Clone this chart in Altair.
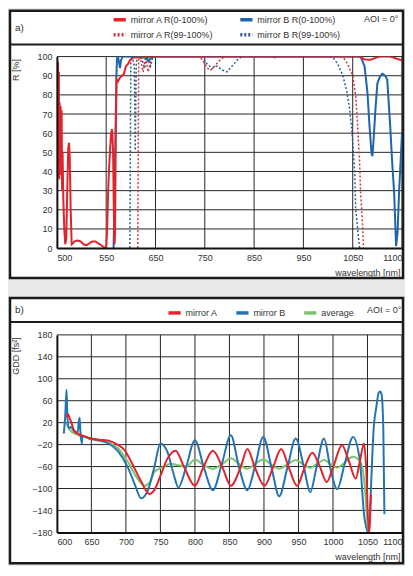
import altair as alt
import pandas as pd

FONT = "Liberation Sans"
TXT = "#333333"
GRID = "#262626"

# ---------------- panel a : reflectance ----------------
A_SERIES = ["mirror A R(0-100%)", "mirror B R(0-100%)",
            "mirror A R(99-100%)", "mirror B R(99-100%)"]
A_COLORS = ["#e2232b", "#1f64a8", "#d8343c", "#2f5d8e"]
A_DASH = [[1, 0], [1, 0], [2, 2], [2, 2]]
A_X_TICKS = [500, 550, 650, 750, 850, 950, 1050, 1100]
A_X_BREAKS = [500, 550, 1050, 1100]
A_X_GRID = [550, 650, 750, 850, 950, 1050, 1100]
A_Y_TICKS = [0, 10, 20, 30, 40, 50, 60, 70, 80, 90, 100]
A_Y_GRID = [10, 20, 30, 40, 50, 60, 70, 80, 90, 100]

A_R_SOLID = [(500.3, 98), (500.8, 40), (501.2, 97), (501.6, 37), (502.0, 92), (502.4, 36),
             (502.8, 76), (503.3, 40), (503.8, 74), (504.3, 38), (504.8, 72), (505.3, 30),
             (505.8, 50), (506.5, 26), (507.5, 10), (508.5, 2), (509.5, 5), (510.5, 30),
             (511.5, 52), (512.3, 55), (513, 48), (514, 20), (515, 2), (516, 2.5), (518, 3.5),
             (521, 4), (524, 3.5), (527, 2), (530, 1.5), (533, 2.5), (536, 3.5), (539, 3.5),
             (542, 2.5), (545, 1.5), (548, 0.3), (550, 0), (552, 10), (554, 30), (556, 42),
             (558, 52), (560, 60), (562, 62), (564, 50), (566, 10), (567, 2), (568, 8),
             (569.5, 60), (571, 88), (574, 87), (578, 89), (582, 90), (586, 91), (590, 95),
             (594, 96), (598, 98), (605, 99.5), (650, 100), (750, 100), (850, 100), (950, 100),
             (1050, 100), (1057, 100), (1062, 98.5), (1068, 98.3), (1074, 99.5), (1077, 100),
             (1088, 100), (1094, 99), (1100, 98)]

B_R_SOLID = [(565, 0), (566.5, 20), (568, 45), (569.5, 70), (571, 92), (572, 99), (574, 100),
             (576, 97), (578, 94), (580, 98), (583, 100), (600, 100), (630, 99.5), (636, 97.5),
             (641, 99.5), (650, 100), (800, 100), (1000, 100), (1058, 100), (1062, 95),
             (1065, 81), (1067, 64), (1069, 50), (1070, 48), (1071, 55), (1073, 72), (1075, 86),
             (1078, 90), (1080, 91), (1083, 90), (1085, 88), (1088, 64), (1090, 45), (1092, 29),
             (1094, 1), (1095.5, 8), (1097, 29), (1100, 60)]

A_R_FINE = [(614, 0), (615, 50), (616, 100), (620, 98), (625, 92), (630, 100), (635, 92),
            (640, 97), (645, 100), (700, 100), (740, 100), (748, 97), (755, 94), (762, 93),
            (770, 95), (780, 98), (790, 100), (1030, 100), (1040, 96), (1050, 90), (1053, 80),
            (1055, 64), (1057, 45), (1058, 29), (1060, 12), (1061, 0)]

B_R_FINE = [(598, 0), (599, 50), (600, 100), (604, 99), (607, 95), (609, 51), (611, 97),
            (615, 100), (622, 99), (628, 94), (633, 100), (640, 95), (645, 100), (700, 100),
            (745, 100), (755, 96), (765, 94), (775, 95), (785, 93), (795, 92), (805, 95),
            (815, 98), (825, 100), (885, 100), (890, 99), (895, 100), (1000, 100), (1010, 99.5),
            (1020, 96), (1030, 90), (1038, 82), (1044, 72), (1048, 62), (1050, 55), (1052, 40),
            (1053, 21), (1055, 10), (1057, 0)]

# ---------------- panel b : group delay dispersion ----------------
B_SERIES = ["mirror A", "mirror B", "average"]
B_COLORS = ["#e2232b", "#2474b5", "#7cc46b"]
B_X_TICKS = [600, 650, 700, 750, 800, 850, 900, 950, 1000, 1050, 1100]
B_X_GRID = [650, 700, 750, 800, 850, 900, 950, 1000, 1050, 1100]
B_Y_TICKS = [-180, -140, -100, -60, -20, 20, 60, 100, 140, 180]
B_Y_GRID = [-140, -100, -60, -20, 20, 60, 100, 140, 180]

GDD_A = [(614, 30), (616, 36), (618, 30), (621, 20), (625, 5), (630, 0), (640, -5), (650, -9),
         (661, -11), (675, -13), (689, -21), (698, -30), (708, -52), (722, -87), (734, -110),
         (741, -103), (750, -77), (760, -46), (772, -31), (784, -60), (800, -95), (812, -62),
         (826, -31), (840, -62), (852, -95), (866, -62), (876, -28), (887, -62), (901, -95),
         (913, -62), (925, -28), (936, -62), (948, -95), (958, -65), (970, -35), (980, -57),
         (991, -88), (1000, -62), (1013, -21), (1023, -50), (1033, -82), (1039, -50),
         (1045, -18), (1048, -60), (1052, -182), (1055, -110)]

GDD_B = [(610, 0), (612, 30), (614, 80), (615, 40), (617, 10), (620, 12), (625, 5), (630, 2),
         (632, 25), (633, 29), (634, 5), (636, -18), (637, -5), (640, -5), (647, -9),
         (661, -12), (675, -18), (689, -33), (703, -62), (713, -93), (722, -118), (732, -103),
         (741, -62), (750, -18), (760, -33), (769, -73), (776, -98), (787, -62), (800, -12),
         (813, -62), (826, -103), (839, -55), (852, -3), (864, -62), (876, -103), (887, -60),
         (899, -6), (911, -62), (922, -114), (934, -62), (946, -9), (958, -62), (967, -107),
         (976, -62), (987, -9), (996, -62), (1006, -101), (1017, -55), (1029, -6), (1039, -50),
         (1045, -147), (1052, -182), (1055, -100), (1059, 10), (1063, 50), (1066, 74),
         (1068, 77), (1070, 74), (1072, 45), (1073, 0), (1074.5, -147)]

GDD_AVG = [(613, 20), (620, 5), (630, -2), (640, -6), (650, -10), (661, -13), (675, -17),
           (689, -27), (703, -52), (718, -84), (727, -95), (735, -88), (741, -70), (755, -60),
           (765, -55), (774, -57), (788, -60), (800, -47), (813, -58), (826, -64), (839, -56),
           (852, -45), (864, -55), (876, -64), (887, -55), (899, -47), (911, -57), (922, -64),
           (934, -56), (946, -48), (958, -57), (967, -62), (976, -56), (987, -48), (996, -55),
           (1006, -62), (1015, -55), (1029, -42), (1039, -50), (1045, -82), (1048, -130),
           (1051, -182)]


def long_df(mapping):
    rows = []
    for name, pts in mapping.items():
        for x, y in pts:
            rows.append({"series": name, "x": x, "y": y})
    return pd.DataFrame(rows)


ONE = pd.DataFrame({"k": [0]})
LEFT = -47  # frame left edge relative to the plot area


def axis_common(**kw):
    base = dict(grid=False, ticks=False, domainColor="#111111", domainWidth=2, format="d",
                labelFont=FONT, labelFontSize=9, labelColor=TXT, labelPadding=5,
                titleFont=FONT, titleFontSize=9, titleFontWeight="normal",
                titleColor=TXT, labelOverlap=False, labelFlush=True, zindex=1)
    base.update(kw)
    return alt.Axis(**base)


def legend_common(**kw):
    base = dict(orient="none", title=None, symbolType="stroke", symbolSize=150,
                symbolStrokeWidth=3.5, labelFont=FONT, labelFontSize=9, labelColor=TXT,
                labelOffset=3, columnPadding=18, rowPadding=0, padding=0)
    base.update(kw)
    return alt.Legend(**base)


def frame_layers(W, top, bottom, sep, tag, aoi_x, aoi_y):
    frame = alt.Chart(ONE).mark_rect(fill="white", stroke="#1b1b1b", strokeWidth=2.5).encode(
        x=alt.value(LEFT), x2=alt.value(W + 1), y=alt.value(top), y2=alt.value(bottom))
    sep_rule = alt.Chart(ONE).mark_rule(color="#1b1b1b", strokeWidth=2).encode(
        x=alt.value(LEFT), x2=alt.value(W + 1), y=alt.value(sep))
    tag_txt = alt.Chart(ONE).mark_text(text=tag, font=FONT, fontSize=10, color=TXT,
                                       align="left", baseline="middle").encode(
        x=alt.value(LEFT + 5), y=alt.value((top + sep) / 2))
    aoi = alt.Chart(ONE).mark_text(text="AOI = 0°", font=FONT, fontSize=9, color=TXT,
                                   align="left", baseline="middle").encode(
        x=alt.value(aoi_x), y=alt.value(aoi_y))
    return frame, sep_rule, tag_txt, aoi


# ---------- build panel a ----------
WA, HA = 346, 192
dfa = long_df({A_SERIES[0]: A_R_SOLID, A_SERIES[1]: B_R_SOLID,
               A_SERIES[2]: A_R_FINE, A_SERIES[3]: B_R_FINE})

xa_scale = alt.Scale(domain=A_X_BREAKS, range=[0, WA / 7, 6 * WA / 7, WA], nice=False)
xa = alt.X("x:Q", scale=xa_scale,
           axis=axis_common(values=A_X_TICKS, title="wavelength [nm]", titleX=WA - 2, titleY=24,
                            titleAlign="right", titleBaseline="middle", titleAnchor="end"))
ya = alt.Y("y:Q", scale=alt.Scale(domain=[0, 100], nice=False),
           axis=axis_common(values=A_Y_TICKS, title="R [%]", titleAngle=270, titleX=-41,
                            titleY=2, titleAlign="right", titleBaseline="middle",
                            labelFlush=False))
leg_a = legend_common(columns=2, direction="horizontal", legendX=55, legendY=-45)
col_a = alt.Color("series:N", scale=alt.Scale(domain=A_SERIES, range=A_COLORS), legend=leg_a)
dash_a = alt.StrokeDash("series:N", scale=alt.Scale(domain=A_SERIES, range=A_DASH), legend=leg_a)

fa = frame_layers(WA, -46, HA + 30, -12, "a)", 308, -38)
grid_ax = alt.Chart(pd.DataFrame({"x": A_X_GRID})).mark_rule(color=GRID, strokeWidth=1).encode(x=xa)
grid_ay = alt.Chart(pd.DataFrame({"y": A_Y_GRID})).mark_rule(color=GRID, strokeWidth=1).encode(y=ya)


def a_line(name, width):
    return alt.Chart(dfa).transform_filter(alt.datum.series == name).mark_line(
        strokeWidth=width, clip=True).encode(x=xa, y=ya, color=col_a, strokeDash=dash_a)


panel_a = alt.layer(fa[0], fa[1], grid_ax, grid_ay,
                    a_line(A_SERIES[3], 1.5), a_line(A_SERIES[2], 1.5),
                    a_line(A_SERIES[1], 2), a_line(A_SERIES[0], 2),
                    fa[2], fa[3]).properties(width=WA, height=HA)

# ---------- build panel b ----------
WB, HB = 346, 198
dfb = long_df({B_SERIES[0]: GDD_A, B_SERIES[1]: GDD_B, B_SERIES[2]: GDD_AVG})

xb = alt.X("x:Q", scale=alt.Scale(domain=[600, 1100], nice=False),
           axis=axis_common(values=B_X_TICKS, title="wavelength [nm]", titleX=WB - 2, titleY=24,
                            titleAlign="right", titleBaseline="middle", titleAnchor="end"))
yb = alt.Y("y:Q", scale=alt.Scale(domain=[-180, 180], nice=False),
           axis=axis_common(values=B_Y_TICKS, title="GDD [fs²]", titleAngle=270, titleX=-41,
                            titleY=2, titleAlign="right", titleBaseline="middle",
                            labelFlush=False))
leg_b = legend_common(columns=3, direction="horizontal", legendX=110, legendY=-30,
                      columnPadding=11)
col_b = alt.Color("series:N", scale=alt.Scale(domain=B_SERIES, range=B_COLORS), legend=leg_b)

fb = frame_layers(WB, -37, HB + 31, -13, "b)", 311, -25)
grid_bx = alt.Chart(pd.DataFrame({"x": B_X_GRID})).mark_rule(color=GRID, strokeWidth=1).encode(x=xb)
grid_by = alt.Chart(pd.DataFrame({"y": B_Y_GRID})).mark_rule(color=GRID, strokeWidth=1).encode(y=yb)


def b_line(name):
    return alt.Chart(dfb).transform_filter(alt.datum.series == name).mark_line(
        strokeWidth=2, clip=True, interpolate="monotone").encode(x=xb, y=yb, color=col_b)


panel_b = alt.layer(fb[0], fb[1], grid_bx, grid_by,
                    b_line("average"), b_line("mirror B"), b_line("mirror A"),
                    fb[2], fb[3]).properties(width=WB, height=HB)

chart = alt.vconcat(panel_a, panel_b, spacing=16).resolve_scale(
    color="independent", strokeDash="independent").resolve_legend(
    color="independent", strokeDash="independent").properties(padding=0).configure(
    background="#e9e9e9", font=FONT).configure_view(stroke=None)

chart.save("out.html", embed_options={"renderer": "svg", "actions": False})
